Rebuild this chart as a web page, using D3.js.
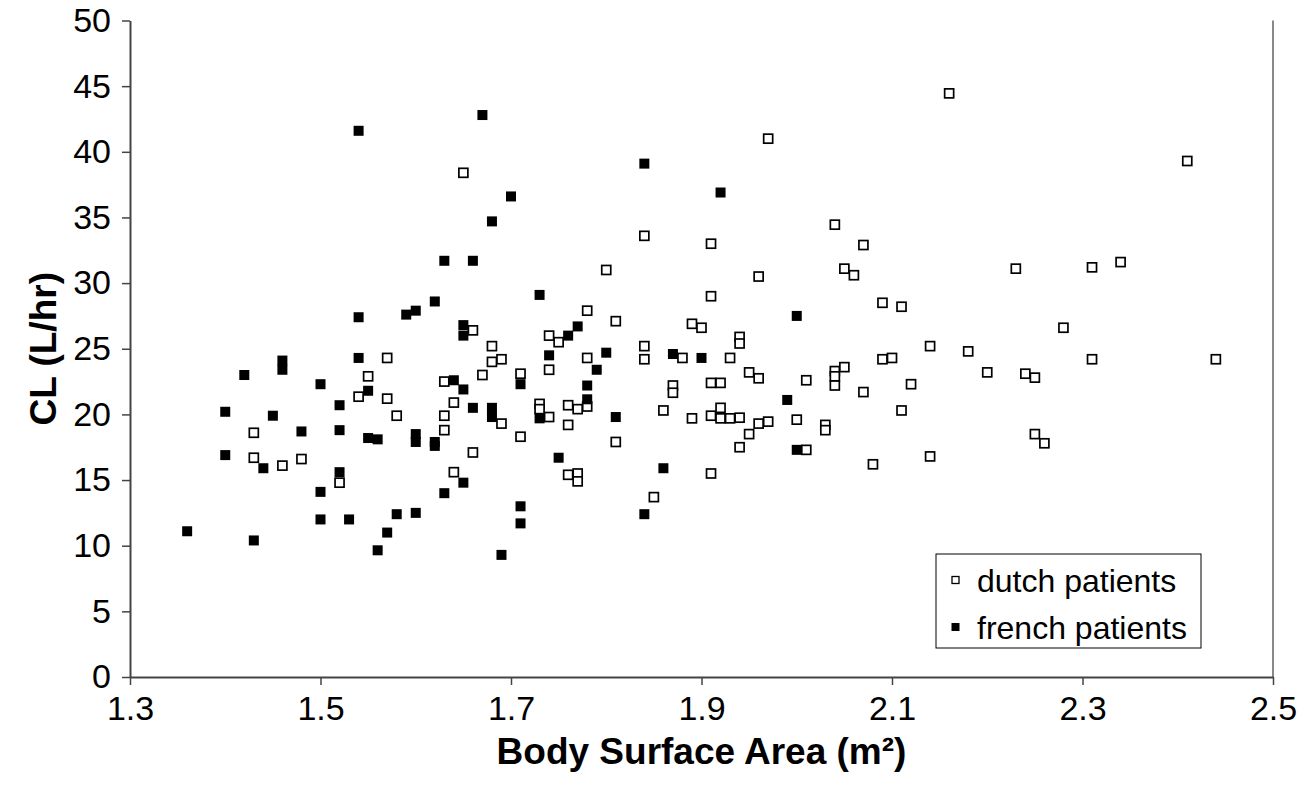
<!DOCTYPE html>
<html>
<head>
<meta charset="utf-8">
<script src="https://cdn.jsdelivr.net/npm/d3@7"></script>
<style>
  html, body { margin: 0; padding: 0; background: #fff; }
  svg { display: block; }
  text { font-family: "Liberation Sans", Arial, sans-serif; fill: #000; }
</style>
</head>
<body>
<svg id="chart" width="1312" height="807"></svg>
<script>
// Body surface area (m²) and clearance (L/hr), one array pair per patient group
const dutchBSA = [1.65,1.78,1.81,1.80,1.84,1.91,1.91,1.89,1.90,1.66,1.74,1.75,
  2.16,1.97,2.04,2.07,2.05,2.06,1.96,2.23,2.09,2.11,1.94,1.94,
  2.41,2.31,2.34,2.28,
  1.57,1.55,1.54,1.57,1.58,1.43,1.43,1.46,1.48,1.52,
  1.68,1.68,1.69,1.67,1.63,1.71,1.64,1.69,1.63,1.63,1.71,1.66,1.64,
  1.74,1.78,1.78,1.76,1.77,1.73,1.73,1.74,1.76,1.81,1.76,1.77,1.77,
  1.84,1.84,1.88,1.93,1.87,1.87,1.91,1.92,1.86,1.89,1.91,1.92,1.92,1.93,1.91,1.85,
  1.95,1.96,2.01,2.04,2.04,2.04,2.05,2.09,2.10,2.14,2.18,2.20,2.24,2.07,2.12,2.11,
  1.94,1.96,1.97,2.00,1.95,1.94,2.03,2.03,2.01,2.08,2.14,
  2.31,2.44,2.25,2.25,2.26];
const dutchCL = [38.4,27.9,27.1,31.0,33.6,33.0,29.0,26.9,26.6,26.4,26.0,25.5,
  44.45,41.0,34.45,32.9,31.1,30.6,30.5,31.1,28.5,28.2,25.9,25.4,
  39.3,31.2,31.6,26.6,
  24.3,22.9,21.35,21.2,19.9,18.6,16.7,16.1,16.6,14.8,
  25.2,24.0,24.2,23.0,22.5,23.1,20.9,19.3,19.9,18.8,18.3,17.1,15.6,
  23.4,24.3,20.6,20.7,20.4,20.8,20.4,19.8,19.2,17.9,15.4,15.5,14.9,
  25.2,24.2,24.3,24.3,22.2,21.65,22.4,22.4,20.3,19.7,19.9,20.5,19.7,19.7,15.5,13.7,
  23.2,22.75,22.6,23.3,22.9,22.2,23.6,24.2,24.3,25.2,24.8,23.2,23.1,21.7,22.3,20.3,
  19.75,19.3,19.45,19.6,18.5,17.5,19.2,18.8,17.3,16.2,16.8,
  24.2,24.2,22.8,18.5,17.8];

const frenchBSA = [1.54,1.54,1.59,1.60,1.67,1.70,1.68,1.63,1.66,1.62,1.73,1.84,1.92,1.65,1.65,1.76,1.77,2.00,
  1.46,1.46,1.54,1.42,1.50,1.55,1.52,1.40,1.45,1.48,1.52,1.55,1.56,1.60,1.60,1.40,1.44,1.52,1.50,1.50,1.53,1.58,1.60,1.36,1.43,1.57,1.56,
  1.64,1.65,1.71,1.66,1.68,1.68,1.62,1.62,1.65,1.63,1.71,1.71,1.69,1.74,1.80,1.79,1.78,1.78,1.73,1.81,1.75,1.87,1.90,1.86,1.84,1.99,2.00];
const frenchCL = [41.6,27.4,27.6,27.9,42.8,36.6,34.7,31.7,31.7,28.6,29.1,39.1,36.9,26.8,26.0,26.0,26.7,27.5,
  24.1,23.4,24.3,23.0,22.3,21.8,20.7,20.2,19.9,18.7,18.8,18.2,18.1,18.5,17.9,16.9,15.9,15.6,14.1,12.0,12.0,12.4,12.5,11.1,10.4,11.0,9.65,
  22.6,21.9,22.3,20.5,20.5,19.8,17.9,17.6,14.8,14.0,13.0,11.7,9.3,24.5,24.7,23.4,22.2,21.15,19.7,19.8,16.7,24.6,24.3,15.9,12.4,21.1,17.3];

const xTicks = [1.3, 1.5, 1.7, 1.9, 2.1, 2.3, 2.5];
const yTicks = [0, 5, 10, 15, 20, 25, 30, 35, 40, 45, 50];
const seriesNames = ["dutch patients", "french patients"];

const plot = { left: 130, right: 1273, top: 20.5, bottom: 677 };

const svg = d3.select("#chart");
const x = d3.scaleLinear().domain([1.3, 2.5]).range([plot.left, plot.right]);
const y = d3.scaleLinear().domain([0, 50]).range([plot.bottom, plot.top]);

// right edge of the plot area
svg.append("line")
  .attr("x1", plot.right).attr("x2", plot.right)
  .attr("y1", plot.top).attr("y2", plot.bottom)
  .attr("stroke", "#888").attr("stroke-width", 2);

// axes
const yAxis = svg.append("g")
  .attr("transform", `translate(${plot.left},0)`)
  .call(d3.axisLeft(y).tickValues(yTicks).tickSize(8).tickPadding(11).tickSizeOuter(0).tickFormat(d3.format("d")));
const xAxis = svg.append("g")
  .attr("transform", `translate(0,${plot.bottom})`)
  .call(d3.axisBottom(x).tickValues(xTicks).tickSize(8).tickPadding(11).tickSizeOuter(0).tickFormat(d3.format(".1f")));

[xAxis, yAxis].forEach(g => {
  g.select(".domain").attr("stroke", "#444").attr("stroke-width", 2);
  g.selectAll(".tick line").attr("stroke", "#444").attr("stroke-width", 1.5);
  g.selectAll(".tick text")
    .attr("font-family", "'Liberation Sans', Arial, sans-serif")
    .attr("font-size", 34).attr("fill", "#000");
});

// axis titles
svg.append("text")
  .attr("x", (plot.left + plot.right) / 2).attr("y", 764)
  .attr("text-anchor", "middle")
  .attr("font-size", 37).attr("font-weight", "bold")
  .text("Body Surface Area (m²)");
svg.append("text")
  .attr("transform", `translate(56,${(plot.top + plot.bottom) / 2}) rotate(-90)`)
  .attr("text-anchor", "middle")
  .attr("font-size", 37).attr("font-weight", "bold")
  .text("CL (L/hr)");

// markers
const dutch = dutchBSA.map((b, i) => ({ b, c: dutchCL[i] }));
const french = frenchBSA.map((b, i) => ({ b, c: frenchCL[i] }));

const hs = 9, fs = 10;
svg.append("g").selectAll("rect").data(dutch).join("rect")
  .attr("x", d => x(d.b) - hs / 2).attr("y", d => y(d.c) - hs / 2)
  .attr("width", hs).attr("height", hs)
  .attr("fill", "#fff").attr("stroke", "#000").attr("stroke-width", 1.7);
svg.append("g").selectAll("rect").data(french).join("rect")
  .attr("x", d => x(d.b) - fs / 2).attr("y", d => y(d.c) - fs / 2)
  .attr("width", fs).attr("height", fs)
  .attr("fill", "#000");

// legend
const lg = svg.append("g");
lg.append("rect")
  .attr("x", 936).attr("y", 554).attr("width", 265).attr("height", 94)
  .attr("fill", "#fff").attr("stroke", "#000").attr("stroke-width", 1);
const rows = [580, 627];
seriesNames.forEach((name, i) => {
  if (i === 0) {
    lg.append("rect").attr("x", 952).attr("y", rows[i] - 3.5).attr("width", 7).attr("height", 7)
      .attr("fill", "#fff").attr("stroke", "#000").attr("stroke-width", 1.3);
  } else {
    lg.append("rect").attr("x", 951.5).attr("y", rows[i] - 4).attr("width", 8).attr("height", 8)
      .attr("fill", "#000");
  }
  lg.append("text").attr("x", 977).attr("y", rows[i] + 12)
    .attr("font-size", 32).text(name);
});
</script>
</body>
</html>
